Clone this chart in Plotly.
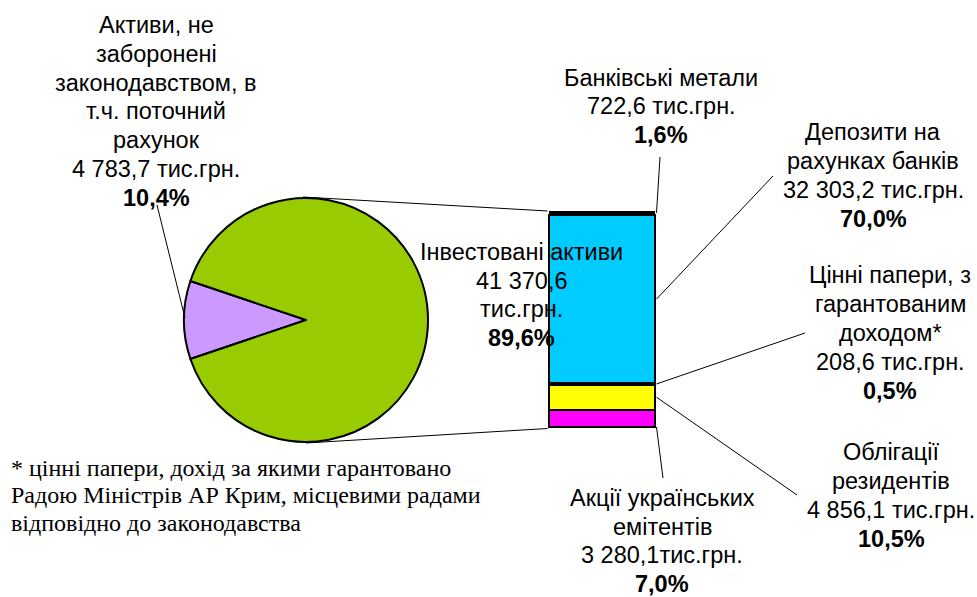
import plotly.graph_objects as go

# ---------------- data ----------------
pie_names = [["Активи, не", "заборонені", "законодавством, в", "т.ч. поточний", "рахунок"],
             ["Інвестовані активи"]]
pie_values = [4783.7, 41370.6]
pie_value_text = [["4 783,7 тис.грн."], ["41 370,6", "тис.грн."]]
pie_pct = ["10,4%", "89,6%"]
pie_colors = ["#CC99FF", "#99CC00"]

# bar segments, bottom to top
bar_names = [["Акції українських", "емітентів"],
             ["Облігації", "резидентів"],
             ["Цінні папери, з", "гарантованим", "доходом*"],
             ["Депозити на", "рахунках банків"],
             ["Банківські метали"]]
bar_values = [3280.1, 4856.1, 208.6, 32303.2, 722.6]
bar_value_text = [["3 280,1тис.грн."], ["4 856,1 тис.грн."], ["208,6 тис.грн."],
                  ["32 303,2 тис.грн."], ["722,6 тис.грн."]]
bar_pct = ["7,0%", "10,5%", "0,5%", "70,0%", "1,6%"]
bar_colors = ["#FF00FF", "#FFFF00", "#000000", "#00CCFF", "#000000"]
bar_line_w = [2.5, 2.5, 2.5, 2.5, 0]

footnote = ["* цінні папери, дохід за якими гарантовано",
            "Радою Міністрів АР Крим, місцевими радами",
            "відповідно до законодавства"]

# ---------------- layout helpers ----------------
W, H = 977, 597


def px(x):
    return x / W


def py(y):
    return 1 - y / H


SANS = "Liberation Sans, Arial, sans-serif"
SERIF = "Liberation Serif, Times New Roman, serif"
FS = 23.5
FS_SERIF = 24

# pie geometry (pixels)
pc_x, pc_y, pr = 306, 320, 122
# bar geometry (stroke centre line, pixels)
bl, br, bt, bb = 549, 655, 211, 427
pad = 6
bar_total = sum(bar_values)

fig = go.Figure()

frac0 = pie_values[0] / sum(pie_values)
fig.add_trace(go.Pie(
    values=pie_values, labels=[" ".join(n) for n in pie_names],
    marker=dict(colors=pie_colors, line=dict(color="black", width=2)),
    sort=False, direction="clockwise", rotation=270 - 180 * frac0,
    textinfo="none", hoverinfo="label+value", showlegend=False,
    domain=dict(x=[px(pc_x - pr), px(pc_x + pr)], y=[py(pc_y + pr), py(pc_y - pr)]),
))

for name, v, c, lw in zip(bar_names, bar_values, bar_colors, bar_line_w):
    fig.add_trace(go.Bar(
        x=[0], y=[v], width=[1], name=" ".join(name),
        marker=dict(color=c, line=dict(color="black", width=lw)),
        xaxis="x2", yaxis="y2", showlegend=False,
    ))

xpad = pad / (br - bl)
ypad = pad / (bb - bt) * bar_total
fig.update_layout(
    barmode="stack",
    width=W, height=H,
    margin=dict(l=0, r=0, t=0, b=0),
    paper_bgcolor="white", plot_bgcolor="rgba(0,0,0,0)",
    xaxis2=dict(domain=[px(bl - pad), px(br + pad)], range=[-0.5 - xpad, 0.5 + xpad],
                visible=False, fixedrange=True, anchor="y2"),
    yaxis2=dict(domain=[py(bb + pad), py(bt - pad)], range=[-ypad, bar_total + ypad],
                visible=False, fixedrange=True, anchor="x2"),
    xaxis=dict(visible=False), yaxis=dict(visible=False),
)


def bar_y(v):
    return bb - v / bar_total * (bb - bt)


# ---------------- labels ----------------
annotations = []


def add_lines(cx, y0, step, lines, bold_last=True, family=SANS, size=FS,
              anchor="center"):
    for i, t in enumerate(lines):
        txt = f"<b>{t}</b>" if (bold_last and i == len(lines) - 1) else t
        annotations.append(dict(x=px(cx), y=py(y0 + i * step), xref="paper", yref="paper",
                                text=txt, showarrow=False, xanchor=anchor,
                                yanchor="middle", align=anchor,
                                font=dict(family=family, size=size, color="black")))


# (centre x, first line y, line step)
pie_label_pos = [(156, 25, 28.8), (521, 252, 28.7)]
bar_label_pos = [(662, 498, 28.5), (891, 452, 29), (890, 275, 29),
                 (873, 132, 29), (661, 78, 28.5)]

for (cx, y0, st), n, vt, p in zip(pie_label_pos, pie_names, pie_value_text, pie_pct):
    add_lines(cx, y0, st, n + vt + [p])
for (cx, y0, st), n, vt, p in zip(bar_label_pos, bar_names, bar_value_text, bar_pct):
    add_lines(cx, y0, st, n + vt + [p])
add_lines(9, 468, 27.5, footnote, bold_last=False, family=SERIF, size=FS_SERIF,
          anchor="left")
fig.update_layout(annotations=annotations)

# ---------------- leader & connector lines ----------------
shapes = []


def seg(x0, y0, x1, y1, w=1):
    shapes.append(dict(type="line", xref="paper", yref="paper",
                       x0=px(x0), y0=py(y0), x1=px(x1), y1=py(y1),
                       line=dict(color="black", width=w)))


cum = 0
mids = []
for v in bar_values:
    mids.append(cum + v / 2)
    cum += v
heads = [bar_y(0)] + [bar_y(m) for m in mids[1:]]
tails = [(663, 478), (797, 495), (805, 333), (773, 176), (660, 157)]
for hy, (tx, ty) in zip(heads, tails):
    seg(br + 1.5, hy, tx, ty)

# pie label leader
seg(157, 205, pc_x - pr + 1, pc_y - 2)
# connectors pie -> bar
seg(303, pc_y - pr - 1, bl - 1.5, bar_y(bar_total))
seg(306, pc_y + pr + 1, bl - 1.5, bar_y(0) + 1.5)

fig.update_layout(shapes=shapes)

fig.write_html("out.html",
               config={"displayModeBar": False},
               post_script="document.body.style.margin='0';"
                           "document.body.style.overflow='hidden';")
